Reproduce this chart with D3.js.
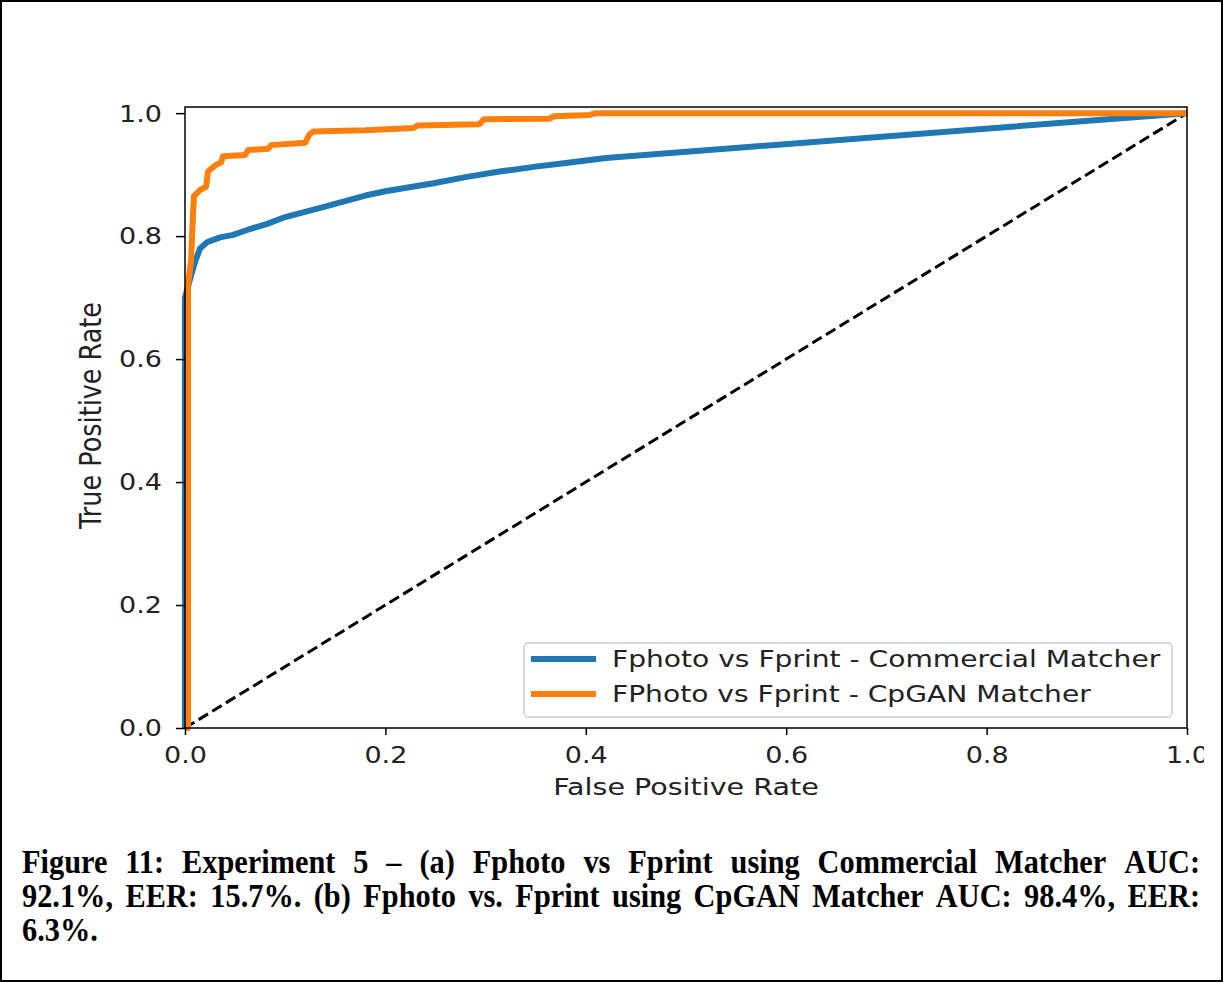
<!DOCTYPE html>
<html>
<head>
<meta charset="utf-8">
<script src="https://cdn.jsdelivr.net/npm/d3@7"></script>
<style>
  body { margin: 0; background: #fff; }
</style>
</head>
<body>
<div id="chart"></div>
<script>
// ROC curves (false positive rate / true positive rate)
var commercialFpr = [0, 0, 0.005, 0.01, 0.015, 0.022, 0.035, 0.048, 0.062, 0.082, 0.1, 0.135, 0.18, 0.2, 0.248, 0.28, 0.314, 0.35, 0.38, 0.42, 1.0];
var commercialTpr = [0, 0.70, 0.73, 0.758, 0.78, 0.79, 0.798, 0.802, 0.81, 0.82, 0.831, 0.846, 0.866, 0.873, 0.886, 0.896, 0.905, 0.913, 0.919, 0.927, 1.0];

var cpganFpr = [0, 0.003, 0.003, 0.006, 0.008, 0.009, 0.015, 0.021, 0.023, 0.03, 0.036, 0.038, 0.06, 0.063, 0.083, 0.086, 0.12, 0.124, 0.128, 0.18, 0.228, 0.232, 0.294, 0.298, 0.364, 0.368, 0.404, 0.41, 1.0];
var cpganTpr = [0, 0, 0.72, 0.76, 0.835, 0.865, 0.875, 0.88, 0.905, 0.915, 0.92, 0.93, 0.932, 0.94, 0.942, 0.948, 0.952, 0.965, 0.97, 0.972, 0.976, 0.98, 0.982, 0.99, 0.991, 0.995, 0.997, 1.0, 1.0];

var chanceLine = [0, 1];

var xTicks = [0, 0.2, 0.4, 0.6, 0.8, 1.0];
var yTicks = [0, 0.2, 0.4, 0.6, 0.8, 1.0];

var seriesNames = ["Fphoto vs Fprint - Commercial Matcher", "FPhoto vs Fprint - CpGAN Matcher"];
var seriesColors = ["#1f77b4", "#ff7f0e"];

var captionLines = [
    "Figure 11: Experiment 5 \u2013 (a) Fphoto vs Fprint using Commercial Matcher AUC:",
    "92.1%, EER: 15.7%. (b) Fphoto vs. Fprint using CpGAN Matcher AUC: 98.4%, EER:",
    "6.3%."
];

var W = 1223, H = 982;
var plot = { left: 185, right: 1187, top: 107, bottom: 728 };
var fontSans = "'DejaVu Sans', sans-serif";

var svg = d3.select("#chart").append("svg")
    .attr("width", W)
    .attr("height", H);

// page frame
svg.append("rect")
    .attr("x", 1).attr("y", 1)
    .attr("width", W - 2).attr("height", H - 2)
    .attr("fill", "none")
    .attr("stroke", "#000")
    .attr("stroke-width", 2);

svg.append("clipPath").attr("id", "figClip")
    .append("rect").attr("x", 0).attr("y", 0).attr("width", 1204).attr("height", 820);

var fig = svg.append("g").attr("clip-path", "url(#figClip)");

var x = d3.scaleLinear().domain([0, 1]).range([plot.left, plot.right]);
var y = d3.scaleLinear().domain([0, 1.01]).range([plot.bottom, plot.top]);

var line = d3.line()
    .x(function (d) { return x(d[0]); })
    .y(function (d) { return y(d[1]); });

// chance diagonal
fig.append("path")
    .datum(chanceLine.map(function (v) { return [v, v]; }))
    .attr("d", line)
    .attr("fill", "none")
    .attr("stroke", "#000")
    .attr("stroke-width", 3)
    .attr("stroke-dasharray", "11,5");

var curves = [
    d3.zip(commercialFpr, commercialTpr),
    d3.zip(cpganFpr, cpganTpr)
];

curves.forEach(function (pts, i) {
    fig.append("path")
        .datum(pts)
        .attr("d", line)
        .attr("fill", "none")
        .attr("stroke", seriesColors[i])
        .attr("stroke-width", 6)
        .attr("stroke-linejoin", "round");
});

// spines
fig.append("rect")
    .attr("x", plot.left).attr("y", plot.top)
    .attr("width", plot.right - plot.left)
    .attr("height", plot.bottom - plot.top)
    .attr("fill", "none")
    .attr("stroke", "#000")
    .attr("stroke-width", 1.5);

// axes
var xAxis = fig.append("g")
    .attr("transform", "translate(0," + plot.bottom + ")")
    .call(d3.axisBottom(x).tickValues(xTicks).tickSize(7).tickFormat(d3.format(".1f")));

var yAxis = fig.append("g")
    .attr("transform", "translate(" + plot.left + ",0)")
    .call(d3.axisLeft(y).tickValues(yTicks).tickSize(9).tickFormat(d3.format(".1f")));

var tickStretch = 1.2;
[xAxis, yAxis].forEach(function (ax) {
    ax.select(".domain").remove();
    ax.selectAll(".tick line").attr("stroke", "#000").attr("stroke-width", 1.5);
    ax.selectAll(".tick text")
        .attr("fill", "#222")
        .attr("font-family", fontSans)
        .attr("font-size", 22.5);
});

xAxis.selectAll(".tick text")
    .attr("y", 35).attr("dy", 0)
    .attr("transform", "scale(" + tickStretch + ",1)");

yAxis.selectAll(".tick text")
    .attr("x", -23 / tickStretch)
    .attr("dy", "0.35em")
    .attr("transform", "scale(" + tickStretch + ",1)");

// axis titles
fig.append("text")
    .attr("transform", "translate(" + (plot.left + plot.right) / 2 + ",795) scale(1.27,1)")
    .attr("text-anchor", "middle")
    .attr("font-family", fontSans)
    .attr("font-size", 22.5)
    .attr("fill", "#222")
    .text("False Positive Rate");

fig.append("text")
    .attr("transform", "translate(101," + ((plot.top + plot.bottom) / 2 - 2) + ") scale(1.15,1) rotate(-90)")
    .attr("text-anchor", "middle")
    .attr("font-family", fontSans)
    .attr("font-size", 25.5)
    .attr("fill", "#222")
    .text("True Positive Rate");

// legend
var legend = fig.append("g").attr("transform", "translate(524,643)");

legend.append("rect")
    .attr("width", 648).attr("height", 74)
    .attr("rx", 4)
    .attr("fill", "#fff")
    .attr("fill-opacity", 0.8)
    .attr("stroke", "#ccc")
    .attr("stroke-width", 1.5);

seriesNames.forEach(function (name, i) {
    var row = legend.append("g").attr("transform", "translate(0," + (16 + i * 35) + ")");
    row.append("line")
        .attr("x1", 7).attr("x2", 72)
        .attr("stroke", seriesColors[i])
        .attr("stroke-width", 6);
    row.append("text")
        .attr("transform", "translate(88,8) scale(1.25,1)")
        .attr("font-family", fontSans)
        .attr("font-size", 22.5)
        .attr("fill", "#222")
        .text(name);
});

// caption, justified like the source document (glyphs a bit condensed)
var capLeft = 22, capRight = 1200, capTop = 873, capLead = 34, capSquash = 0.92;
var caption = svg.append("g")
    .attr("transform", "translate(" + capLeft + ",0) scale(" + capSquash + ",1)")
    .attr("font-family", "'Liberation Serif', 'Times New Roman', serif")
    .attr("font-weight", "bold")
    .attr("font-size", 33)
    .attr("fill", "#000");

var capWidth = (capRight - capLeft) / capSquash;

captionLines.forEach(function (txt, i) {
    var words = txt.split(" ");
    var yy = capTop + i * capLead;
    var nodes = words.map(function (w) {
        return caption.append("text").attr("y", yy).text(w);
    });
    var widths = nodes.map(function (n) { return n.node().getComputedTextLength(); });
    var gap = (i < captionLines.length - 1 && words.length > 1)
        ? (capWidth - d3.sum(widths)) / (words.length - 1)
        : 8;
    var cx = 0;
    nodes.forEach(function (n, j) {
        n.attr("x", cx);
        cx += widths[j] + gap;
    });
});
</script>
</body>
</html>
